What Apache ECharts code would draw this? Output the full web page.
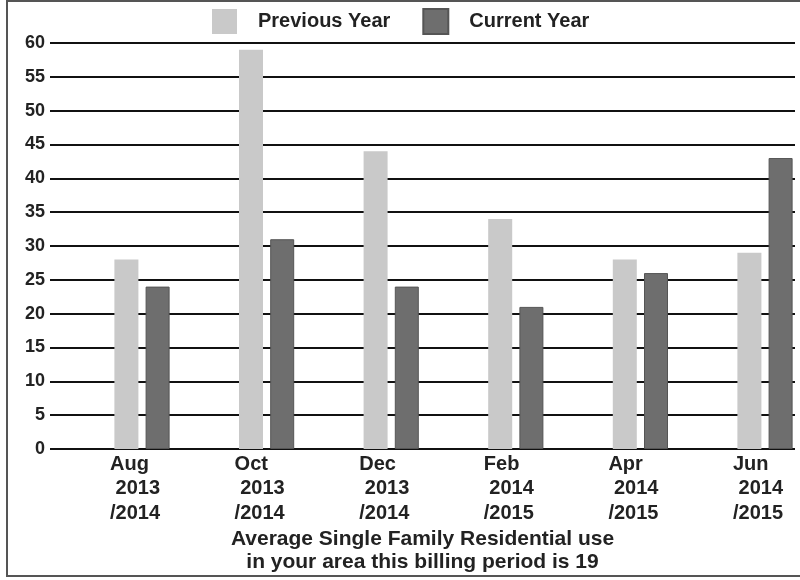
<!DOCTYPE html>
<html>
<head>
<meta charset="utf-8">
<script src="https://cdn.jsdelivr.net/npm/echarts@6/dist/echarts.min.js"></script>
<style>
  html, body { margin: 0; padding: 0; background: #ffffff; }
  #chart { width: 800px; height: 580px; }
</style>
</head>
<body>
<div id="chart"></div>
<script>
// Billing periods (month / year span)
const months = ['Aug', 'Oct', 'Dec', 'Feb', 'Apr', 'Jun'];
const firstYears = ['2013', '2013', '2013', '2014', '2014', '2014'];
const secondYears = ['/2014', '/2014', '/2014', '/2015', '/2015', '/2015'];

// Usage per billing period
const previousYear = [28, 59, 44, 34, 28, 29];
const currentYear = [24, 31, 24, 21, 26, 43];

// Y axis scale
const yMin = 0;
const yMax = 60;
const yStep = 5;

const seriesNames = ['Previous Year', 'Current Year'];
const footnote = 'Average Single Family Residential use\nin your area this billing period is 19';

const FONT = '"Liberation Sans", Arial, sans-serif';
const TEXT = '#222222';
const PREV_COLOR = '#c9c9c9';
const CUR_COLOR = '#6e6e6e';

const categories = months.map((m, i) => m + '|' + firstYears[i] + '|' + secondYears[i]);

const chart = echarts.init(document.getElementById('chart'), null, { renderer: 'canvas' });

chart.setOption({
  backgroundColor: '#ffffff',
  animation: false,
  legend: {
    data: seriesNames,
    left: 207,
    top: 3,
    icon: 'rect',
    itemWidth: 25,
    itemHeight: 25,
    itemGap: 32,
    textStyle: {
      fontFamily: FONT,
      fontWeight: 'bold',
      fontSize: 20,
      color: TEXT,
      padding: [0, 0, 0, 16]
    }
  },
  grid: [
    // frame for the horizontal rules and value labels
    { left: 50, right: 5, top: 43, bottom: 131, containLabel: false },
    // bar area: category centres from Aug to Jun
    { left: 142, right: 32.5, top: 43, bottom: 131, containLabel: false }
  ],
  xAxis: [
    {
      gridIndex: 0,
      type: 'value',
      min: 0,
      max: 1,
      axisLine: { show: false },
      axisTick: { show: false },
      axisLabel: { show: false },
      splitLine: { show: false },
      name: footnote,
      nameLocation: 'middle',
      nameGap: 78,
      nameTextStyle: {
        fontFamily: FONT,
        fontWeight: 'bold',
        fontSize: 21,
        color: TEXT,
        lineHeight: 23.5,
        align: 'center'
      }
    },
    {
      gridIndex: 1,
      type: 'category',
      data: categories,
      boundaryGap: false,
      axisLine: { show: false },
      axisTick: { show: false },
      axisLabel: {
        interval: 0,
        margin: 3,
        align: 'center',
        formatter: function (v) {
          const p = v.split('|');
          return '{t|' + p[0] + '}\n{t| ' + p[1] + '}\n{t|' + p[2] + '}';
        },
        rich: {
          t: {
            width: 64,
            align: 'left',
            fontFamily: FONT,
            fontWeight: 'bold',
            fontSize: 20,
            lineHeight: 24.5,
            color: TEXT
          }
        }
      }
    }
  ],
  yAxis: [
    {
      gridIndex: 0,
      type: 'value',
      min: yMin,
      max: yMax,
      interval: yStep,
      axisLine: { show: false },
      axisTick: { show: false },
      axisLabel: {
        margin: 5,
        fontFamily: FONT,
        fontWeight: 'bold',
        fontSize: 18,
        color: TEXT
      },
      splitLine: { show: true, lineStyle: { color: '#111111', width: 2 } }
    },
    {
      gridIndex: 1,
      type: 'value',
      min: yMin,
      max: yMax,
      interval: yStep,
      show: false,
      splitLine: { show: false }
    }
  ],
  series: [
    {
      name: seriesNames[0],
      type: 'bar',
      xAxisIndex: 1,
      yAxisIndex: 1,
      data: previousYear,
      barWidth: 24,
      barGap: '30%',
      itemStyle: { color: PREV_COLOR }
    },
    {
      name: seriesNames[1],
      type: 'bar',
      xAxisIndex: 1,
      yAxisIndex: 1,
      data: currentYear,
      barWidth: 24,
      barGap: '30%',
      itemStyle: { color: CUR_COLOR, borderColor: '#555555', borderWidth: 1 }
    }
  ],
  graphic: [
    {
      type: 'rect',
      silent: true,
      z: 100,
      shape: { x: 7, y: 1, width: 810, height: 575 },
      style: { fill: 'none', stroke: '#555555', lineWidth: 2 }
    }
  ]
});
</script>
</body>
</html>
